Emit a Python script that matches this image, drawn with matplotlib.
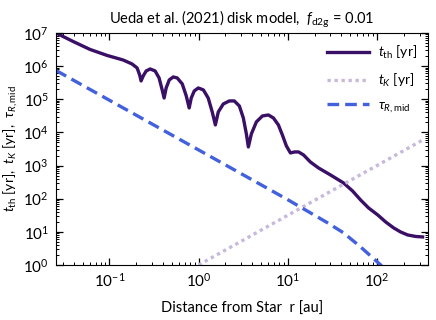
import matplotlib
matplotlib.use('Agg')
import matplotlib.pyplot as plt

# t_th curve
r_th = [0.0251, 0.0390, 0.0605, 0.0940, 0.142, 0.179, 0.204, 0.218, 0.226,
        0.239, 0.258, 0.286, 0.325, 0.360, 0.390, 0.410, 0.432, 0.468,
        0.519, 0.575, 0.655, 0.726, 0.783, 0.826, 0.893, 0.991, 1.13, 1.28,
        1.42, 1.54, 1.66, 1.89, 2.21, 2.51, 2.86, 3.17, 3.43, 3.61, 3.90,
        4.44, 5.19, 6.05, 6.89, 7.84, 8.69, 9.64, 10.7, 11.9, 13.2, 15.0,
        17.9, 22.1, 30.1, 42.2, 53.2, 65.5, 80.5, 102, 125, 154, 184, 221,
        272, 325]
t_th = [1.0e7, 5.55e6, 3.18e6, 2.10e6, 1.53e6, 1.16e6, 8.8e5, 5.41e5, 3.57e5,
        5.05e5, 7.14e5, 8.2e5, 7.14e5, 4.39e5, 1.91e5, 1.09e5, 2.19e5, 3.82e5,
        4.71e5, 4.39e5, 2.90e5, 1.26e5, 5.46e4, 1.09e5, 1.78e5, 2.19e5,
        1.91e5, 1.09e5, 4.14e4, 1.68e4, 4.14e4, 7.21e4, 8.89e4, 8.89e4,
        6.28e4, 2.73e4, 8.97e3, 3.64e3, 8.97e3, 2.07e4, 3.13e4, 3.36e4,
        2.73e4, 1.68e4, 8.37e3, 3.90e3, 2.40e3, 2.57e3, 2.57e3, 2.09e3,
        1.28e3, 845, 520, 298, 171, 91.5, 52.5, 32.3, 19.9, 13.1, 9.9, 8.04,
        7.24, 7.0]

# Kepler time
r_k = [1.0, 10.0, 100.0, 325]
t_k = [1.0, 31.6, 1000.0, 5860.0]

# midplane Rosseland optical depth
r_tau = [0.0251, 0.1, 1.0, 10.0, 28.0, 42.2, 65.5, 110, 160]
tau = [7.4e5, 9.3e4, 2.95e3, 93.0, 18.6, 9.3, 3.5, 1.0, 0.32]

plt.rcParams['font.family'] = ['Lato', 'DejaVu Sans']
plt.rcParams['mathtext.fontset'] = 'custom'
plt.rcParams['mathtext.rm'] = 'Lato'
plt.rcParams['mathtext.it'] = 'Lato:italic'
plt.rcParams['mathtext.bf'] = 'Lato:bold'
plt.rcParams['font.size'] = 10

fig = plt.figure(figsize=(4.36, 3.2), dpi=100)
ax = fig.add_axes([0.128, 0.172, 0.854, 0.725])

ax.plot(r_th, t_th, color='#3a0f66', lw=2.4, label=r'$t_{\rm th}$ [yr]')
ax.plot(r_k, t_k, color='#c7b9dc', lw=2.4, ls=(0, (1, 1.1)),
        label=r'$t_K$ [yr]')
ax.plot(r_tau, tau, color='#4360dd', lw=2.4, ls=(0, (3.5, 1.8)),
        label=r'$\tau_{R,{\rm mid}}$')

ax.set_xscale('log')
ax.set_yscale('log')
ax.set_xlim(0.025, 375)
ax.set_ylim(1, 1e7)
ax.set_xlabel(r'Distance from Star  r [au]', fontsize=10.5, labelpad=9)
ax.set_ylabel(r'$t_{\rm th}$ [yr],  $t_K$ [yr],  $\tau_{R,{\rm mid}}$',
              fontsize=10, labelpad=2)
ax.set_title(r'Ueda et al. (2021) disk model,  $f_{\rm d2g}$ = 0.01',
             fontsize=10.5, pad=7)

ax.tick_params(which='both', direction='in', top=True, right=True,
               labelsize=11)
ax.tick_params(which='major', length=5, width=0.9, pad=5)
ax.tick_params(which='minor', length=2.5, width=0.7)
ax.yaxis.set_major_locator(matplotlib.ticker.LogLocator(base=10, numticks=10))
ax.yaxis.set_minor_locator(matplotlib.ticker.LogLocator(
    base=10, subs=range(2, 10), numticks=20))

ax.legend(loc='upper right', frameon=False, handlelength=3.0,
          handletextpad=0.65, labelspacing=0.75, borderaxespad=0.4)

fig.savefig('out.png', dpi=100)
